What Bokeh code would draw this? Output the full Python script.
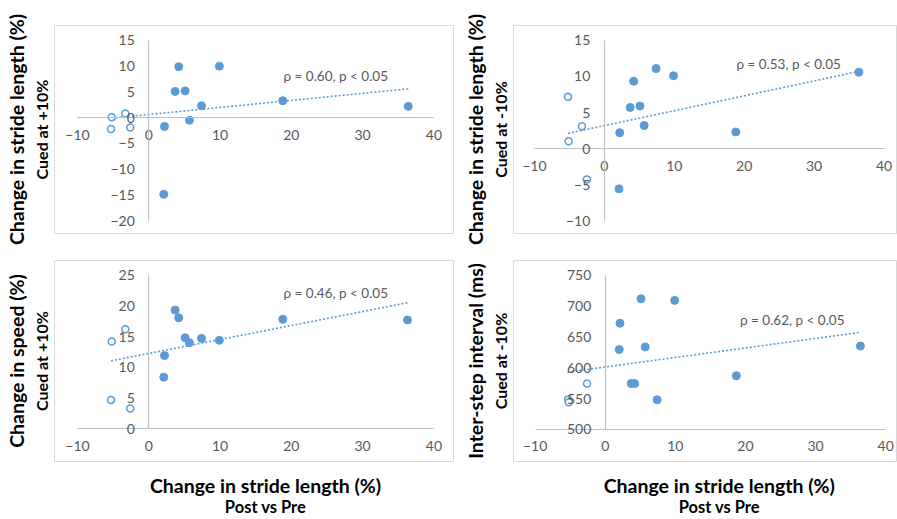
from bokeh.plotting import figure
from bokeh.models import Range1d, LinearAxis, FixedTicker, Label, CustomJSTickFormatter
from bokeh.layouts import column, row
from bokeh.embed import file_html
from bokeh.resources import INLINE
import json

# ---------------- data ----------------
# x: change in stride length (%), Post vs Pre
p1_filled_x = [4.2, 9.9, 3.7, 5.1, 7.4, 18.8, 36.4, 5.7, 2.2, 2.1]
p1_filled_y = [9.9, 10.0, 5.1, 5.2, 2.3, 3.3, 2.2, -0.5, -1.7, -14.9]
p1_open_x = [-5.2, -3.3, -5.3, -2.6]
p1_open_y = [0.1, 0.8, -2.2, -1.9]
p1_trend_x = [-5.2, 36.4]
p1_trend_y = [-0.1, 5.6]

p2_filled_x = [7.4, 9.9, 4.2, 3.7, 5.1, 5.7, 2.2, 18.8, 36.4, 2.1]
p2_filled_y = [11.1, 10.1, 9.35, 5.7, 5.9, 3.2, 2.2, 2.3, 10.6, -5.6]
p2_open_x = [-5.2, -3.2, -5.1, -2.5]
p2_open_y = [7.2, 3.1, 1.0, -4.3]
p2_trend_x = [-5.2, 36.4]
p2_trend_y = [2.1, 10.7]

p3_filled_x = [3.7, 4.2, 18.8, 36.3, 5.1, 7.4, 9.9, 5.7, 2.2, 2.1]
p3_filled_y = [19.3, 18.05, 17.8, 17.7, 14.8, 14.7, 14.4, 14.0, 11.9, 8.4]
p3_open_x = [-3.3, -5.2, -5.3, -2.6]
p3_open_y = [16.2, 14.2, 4.7, 3.3]
p3_trend_x = [-5.3, 36.3]
p3_trend_y = [11.05, 20.5]

p4_filled_x = [5.1, 9.9, 2.1, 2.0, 5.7, 36.4, 18.7, 3.7, 4.2, 7.4]
p4_filled_y = [711.7, 709.0, 672.0, 629.5, 633.6, 635.0, 587.0, 574.4, 574.4, 548.0]
p4_open_x = [-2.6, -5.3, -5.2]
p4_open_y = [574.4, 548.7, 544.0]
p4_trend_x = [-5.4, 36.2]
p4_trend_y = [592.8, 657.0]

x_ticks = [-10, 0, 10, 20, 30, 40]
p1_y_ticks = [-20, -15, -10, -5, 0, 5, 10, 15]
p2_y_ticks = [-10, -5, 0, 5, 10, 15]
p3_y_ticks = [0, 5, 10, 15, 20, 25]
p4_y_ticks = [500, 550, 600, 650, 700, 750]

p1_stat = "ρ = 0.60, p < 0.05"
p2_stat = "ρ = 0.53, p < 0.05"
p3_stat = "ρ = 0.46, p < 0.05"
p4_stat = "ρ = 0.62, p < 0.05"

x_title = "Change in stride length (%)"
x_subtitle = "Post vs Pre"

# ---------------- style ----------------
BLUE = "#5B9BD5"
TICK_COLOR = "#595959"
AXIS_COLOR = "#BFBFBF"
BOX_COLOR = "#D9D9D9"
FONT = "Lato"


def title_axis(text, size, standoff):
    a = LinearAxis(ticker=FixedTicker(ticks=[]), axis_label=text)
    a.axis_line_color = None
    a.major_tick_line_color = None
    a.minor_tick_line_color = None
    a.major_tick_out = 0
    a.minor_tick_out = 0
    a.major_label_standoff = 0
    a.axis_label_standoff = standoff
    a.axis_label_text_font = FONT
    a.axis_label_text_font_size = size
    a.axis_label_text_font_style = "bold"
    a.axis_label_text_color = "black"
    return a


def caption_axis(text, size, standoff, at):
    # a tick-less axis whose single tick label is the caption, centred at `at`
    a = LinearAxis(ticker=FixedTicker(ticks=[at]),
                   formatter=CustomJSTickFormatter(code="return %s;" % json.dumps(text)))
    a.axis_line_color = None
    a.major_tick_line_color = None
    a.minor_tick_line_color = None
    a.major_tick_out = 0
    a.major_tick_in = 0
    a.minor_tick_out = 0
    a.major_label_standoff = standoff
    a.major_label_text_font = FONT
    a.major_label_text_font_size = size
    a.major_label_text_font_style = "bold"
    a.major_label_text_color = "black"
    return a


def make_panel(spec, fx, fy, ox_, oy_, tx, ty, yticks, ybounds, xcross, stat, stat_pos,
               ytitle1, ytitle2, bottom_cx=None):
    W, H, bl, br, bt, bb, xs, xe, ys, ye, offx, offy = spec
    p = figure(width=W, height=H, x_range=Range1d(xs, xe), y_range=Range1d(ys, ye),
               x_axis_location=None, y_axis_location=None, toolbar_location=None,
               output_backend="svg", min_border_left=bl, min_border_right=br,
               min_border_top=bt, min_border_bottom=bb, title=None)
    p.outline_line_color = BOX_COLOR
    p.outline_line_width = 1
    p.background_fill_color = "white"
    p.border_fill_color = "white"
    p.grid.visible = False

    fw = W - bl - br
    fh = H - bt - bb
    left = offx + bl
    top = offy + bt

    def dx(px):
        return xs + (px - left) * (xe - xs) / fw

    def dy(py):
        return ye - (py - top) * (ye - ys) / fh

    xa = LinearAxis(fixed_location=xcross, ticker=FixedTicker(ticks=x_ticks), bounds=(-10, 40))
    ya = LinearAxis(fixed_location=0, ticker=FixedTicker(ticks=yticks), bounds=ybounds)
    for a in (xa, ya):
        a.major_tick_line_color = None
        a.minor_tick_line_color = None
        a.major_tick_out = 0
        a.major_tick_in = 0
        a.minor_tick_out = 0
        a.axis_line_color = AXIS_COLOR
        a.axis_line_width = 1.2
        a.major_label_text_font = FONT
        a.major_label_text_font_size = "14px"
        a.major_label_text_color = TICK_COLOR
    xa.major_label_standoff = 12
    ya.major_label_standoff = 14
    p.add_layout(xa, "below")
    p.add_layout(ya, "left")

    # y titles as axis labels of tick-less axes (inner first)
    p.add_layout(title_axis(ytitle2, "16px", 4), "left")
    p.add_layout(title_axis(ytitle1, "19.5px", 1), "left")

    if bottom_cx is not None:
        c = round(dx(bottom_cx), 4)
        p.add_layout(caption_axis(x_title, "19.5px", 12, c), "below")
        p.add_layout(caption_axis(x_subtitle, "16.5px", -3, c), "below")

    p.line(tx, ty, line_color=BLUE, line_width=1.6, line_dash="2 2")
    p.scatter(fx, fy, size=8, fill_color=BLUE, line_color=BLUE)
    p.scatter(ox_, oy_, size=7, fill_color="white", line_color=BLUE, line_width=1.5)

    p.add_layout(Label(x=dx(stat_pos[0]), y=dy(stat_pos[1]), text=stat, text_font=FONT,
                       text_font_size="13.5px", text_color=TICK_COLOR,
                       text_align="left", text_baseline="middle"))
    return p


# spec: W, H, border l, r, t, b, x start, x end, y start, y end, offset x, offset y
s1 = (460, 246, 54, 7, 25, 13, -13.23, 42.75, -22.5, 17.9, 0, 0)
s2 = (437, 246, 46, 0, 25, 13, -12.99, 41.93, -11.8, 17.08, 460, 0)
s3 = (460, 273, 54, 7, 14, 52, -13.23, 42.75, -5.32, 27.37, 0, 246)
s4 = (437, 273, 47, 0, 14, 52, -13.09, 41.69, 448.1, 773.6, 460, 246)

f1 = make_panel(s1, p1_filled_x, p1_filled_y, p1_open_x, p1_open_y, p1_trend_x, p1_trend_y,
                p1_y_ticks, (-20, 15), 0, p1_stat, (283, 75),
                "Change in stride length (%)", "Cued at +10%")
f2 = make_panel(s2, p2_filled_x, p2_filled_y, p2_open_x, p2_open_y, p2_trend_x, p2_trend_y,
                p2_y_ticks, (-10, 15), 0, p2_stat, (733, 63),
                "Change in stride length (%)", "Cued at -10%")
f3 = make_panel(s3, p3_filled_x, p3_filled_y, p3_open_x, p3_open_y, p3_trend_x, p3_trend_y,
                p3_y_ticks, (0, 25), 0, p3_stat, (283, 293),
                "Change in speed (%)", "Cued at +10%", bottom_cx=265)
f4 = make_panel(s4, p4_filled_x, p4_filled_y, p4_open_x, p4_open_y, p4_trend_x, p4_trend_y,
                p4_y_ticks, (500, 750), 500, p4_stat, (737, 321),
                "Inter-step interval (ms)", "Cued at -10%", bottom_cx=716)

layout = column(row(f1, f2, spacing=0), row(f3, f4, spacing=0), spacing=0)

open("out.html", "w").write(file_html(layout, INLINE))
